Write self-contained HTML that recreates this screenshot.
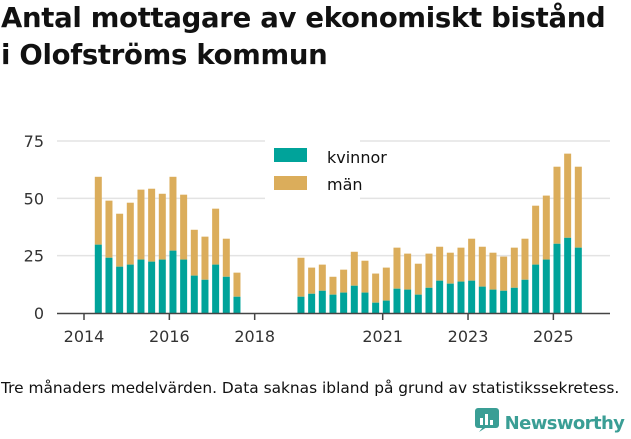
<!DOCTYPE html>
<html><head><meta charset="utf-8"><style>
body{margin:0;width:631px;height:439px;background:#fff;font-family:"DejaVu Sans","Liberation Sans",sans-serif;overflow:hidden;position:relative}
h1{position:absolute;left:1px;top:0;margin:0;font-size:27.5px;line-height:37px;font-weight:bold;color:#111;letter-spacing:-0.3px;white-space:nowrap}
.note{position:absolute;left:1px;top:379px;font-size:15.4px;color:#111;letter-spacing:0px;white-space:nowrap}
.logo{position:absolute;left:475px;top:408px;font-size:18px;color:#3a9e95;font-weight:bold;letter-spacing:-0.6px;white-space:nowrap}
</style></head><body>
<h1>Antal mottagare av ekonomiskt bistånd<br>i Olofströms kommun</h1>
<svg width="631" height="439" style="position:absolute;left:0;top:0;font-family:'DejaVu Sans',sans-serif">
<g id="grid"></g><g id="bars"></g><g id="axis"></g>
<g>
<rect x="265" y="140" width="95" height="60" fill="#fff"/>
<rect x="274" y="148" width="33" height="14" fill="#00a39a"/>
<text x="327" y="163" font-size="16" fill="#111">kvinnor</text>
<rect x="274" y="176" width="33" height="14" fill="#dbad5b"/>
<text x="327" y="190" font-size="16" fill="#111">män</text>
</g>
</svg>
<div class="note">Tre månaders medelvärden. Data saknas ibland på grund av statistikssekretess.</div>
<div class="logo"><svg width="24" height="26" style="vertical-align:-5px"><rect x="0" y="0" width="24" height="20" rx="3" fill="#3a9e95"/><path d="M4 24 L8 19 L12 19Z" fill="#3a9e95"/><rect x="5" y="10" width="3" height="7" fill="#fff"/><rect x="10" y="6" width="3" height="11" fill="#fff"/><rect x="15" y="12" width="3" height="5" fill="#fff"/></svg> Newsworthy</div>
<script>
const idx=[0,1,2,3,4,5,6,7,8,9,10,11,12,13,19,20,21,22,23,24,25,26,27,28,29,30,31,32,33,34,35,36,37,38,39,40,41,42,43,44,45];
const kvinnor=[29.8,24.1,20.2,21.1,23.3,22.4,23.3,27.2,23.3,16.3,14.5,21.1,15.8,7.1,7.1,8.4,9.7,8,8.9,11.9,8.9,4.5,5.4,10.6,10.2,8,11,14.1,12.8,13.7,14.1,11.5,10.2,9.7,11,14.5,21.1,23.3,30.2,32.8,28.5];
const totals=[59.4,49,43.3,48.1,53.8,54.2,52,59.4,51.6,36.3,33.3,45.5,32.4,17.6,24.1,19.8,21.1,15.8,18.9,26.7,22.8,17.2,19.8,28.5,25.9,21.5,25.9,28.9,26.3,28.5,32.4,28.9,26.3,24.6,28.5,32.4,46.8,51.2,63.8,69.5,63.8];
const yTicks=[0,25,50,75];
const xTicks=[2014,2016,2018,2021,2023,2025];
const y=v=>313-v*2.293;
const xi=i=>98.3+i*10.667;
const xYear=yr=>84+(yr-2014)*42.67;
const NS='http://www.w3.org/2000/svg';
function mk(p,t,a){const e=document.createElementNS(NS,t);for(const k in a)e.setAttribute(k,a[k]);document.getElementById(p).appendChild(e);return e;}
yTicks.forEach(t=>{
 if(t>0){const l=mk('grid','line',{x1:57,x2:610,y1:y(t),y2:y(t),stroke:'#e3e3e3','stroke-width':1.5});
 
 }
 const tx=mk('axis','text',{x:44,y:y(t)+6,'font-size':16,fill:'#333','text-anchor':'end'});tx.textContent=t;
 
 
});
idx.forEach((ix,i)=>{
 const cx=xi(ix);
 const m=mk('bars','rect',{x:cx-3.5,width:7,y:y(totals[i]),height:y(kvinnor[i])-y(totals[i]),fill:'#dbad5b'});
 
 
 const k=mk('bars','rect',{x:cx-3.5,width:7,y:y(kvinnor[i]),height:313-y(kvinnor[i]),fill:'#00a39a'});
 
 
});
const ax=mk('axis','line',{x1:57,x2:610,y1:313.5,y2:313.5,stroke:'#444','stroke-width':1.5});


xTicks.forEach(t=>{
 mk('axis','line',{x1:xYear(t),x2:xYear(t),y1:314,y2:320,stroke:'#444','stroke-width':1.5});
 const tx=mk('axis','text',{x:xYear(t),y:342,'font-size':16,fill:'#333','text-anchor':'middle'});tx.textContent=t;
 
 
});
</script>
</body></html>
